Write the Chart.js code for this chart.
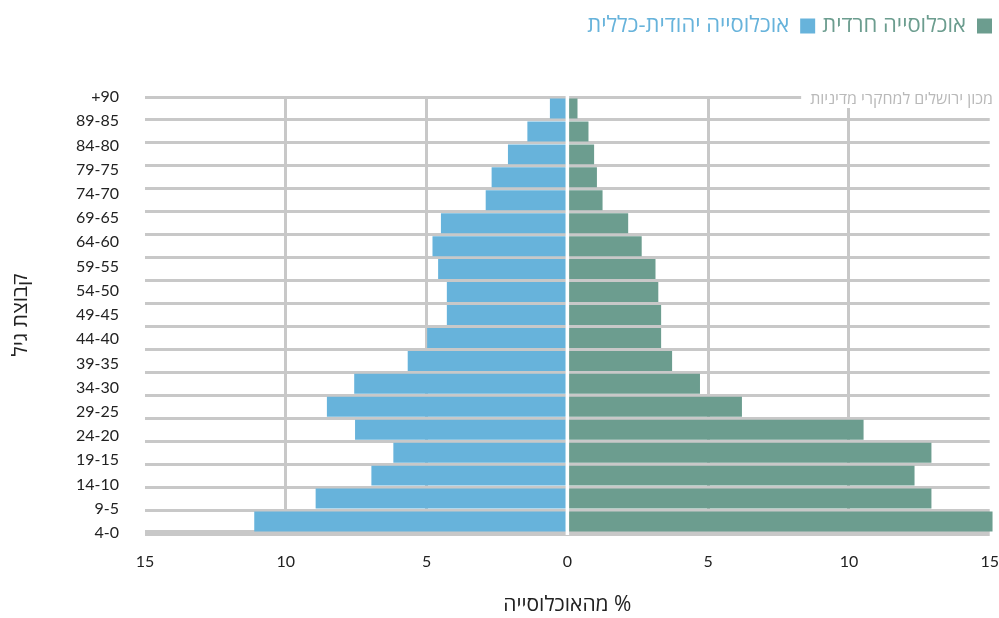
<!DOCTYPE html>
<html lang="he">
<head>
<meta charset="utf-8">
<title>פירמידת גילים</title>
<script src="https://cdn.jsdelivr.net/npm/chart.js@4.4.1/dist/chart.umd.min.js"></script>
<style>
  html, body { margin: 0; padding: 0; background: #fff; }
  #wrap { width: 999px; height: 618px; position: relative; }
</style>
</head>
<body>
<div id="wrap"><canvas id="pyramid"></canvas></div>
<script>
// קבוצות גיל, מלמעלה למטה
const ageGroups = ['+90', '89-85', '84-80', '79-75', '74-70', '69-65', '64-60', '59-55', '54-50',
  '49-45', '44-40', '39-35', '34-30', '29-25', '24-20', '19-15', '14-10', '9-5', '4-0'];

// % מהאוכלוסייה
const harediPct = [0.36, 0.75, 0.95, 1.05, 1.25, 2.16, 2.64, 3.13, 3.23,
  3.33, 3.33, 3.72, 4.71, 6.2, 10.52, 12.93, 12.33, 12.93, 15.1];
const generalPct = [0.62, 1.42, 2.11, 2.69, 2.9, 4.49, 4.79, 4.59, 4.28,
  4.28, 4.98, 5.67, 7.57, 8.54, 7.54, 6.18, 6.96, 8.94, 11.12];

const xGridValues = [-10, -5, 5, 10];

const GREEN = '#6c9d8f';
const BLUE = '#67b3db';
const GRID = '#c8c8c8';
const numFont = 'Lato, sans-serif';
const hebFont = "'Open Sans', 'DejaVu Sans', sans-serif";

// רווח בין המקרא לשטח הגרף
const legendSpacer = {
  id: 'legendSpacer',
  beforeInit(chart) {
    const fit = chart.legend.fit;
    chart.legend.fit = function () {
      fit.call(this);
      this.height = 89;
    };
  }
};

// קו לבן באפס + קרדיט
const overlay = {
  id: 'overlay',
  afterDatasetsDraw(chart) {
    const { ctx, chartArea, scales } = chart;
    const x0 = scales.x.getPixelForValue(0);
    ctx.save();
    ctx.strokeStyle = '#fff';
    ctx.lineWidth = 3.5;
    ctx.beginPath();
    ctx.moveTo(x0, chartArea.top - 1.5);
    ctx.lineTo(x0, chartArea.bottom + 2);
    ctx.stroke();

    const credit = 'מכון ירושלים למחקרי מדיניות';
    ctx.font = '16px ' + hebFont;
    const right = chart.width - 6;
    const w = ctx.measureText(credit).width;
    ctx.fillStyle = '#fff';
    ctx.fillRect(right - w - 9, chartArea.top - 10, chart.width - (right - w - 9), 21);
    ctx.fillStyle = '#b9b9b9';
    ctx.textAlign = 'right';
    ctx.textBaseline = 'middle';
    ctx.fillText(credit, right, chartArea.top + 2);
    ctx.restore();
  }
};

new Chart(document.getElementById('pyramid'), {
  type: 'bar',
  data: {
    labels: ageGroups,
    datasets: [
      {
        label: 'אוכלוסייה חרדית',
        data: harediPct,
        backgroundColor: GREEN,
        yAxisID: 'yBars',
        barPercentage: 0.87,
        categoryPercentage: 1,
        clip: 6
      },
      {
        label: 'אוכלוסייה יהודית-כללית',
        data: generalPct.map(v => -v),
        backgroundColor: BLUE,
        yAxisID: 'yBars',
        barPercentage: 0.87,
        categoryPercentage: 1,
        clip: 6
      }
    ]
  },
  options: {
    indexAxis: 'y',
    responsive: true,
    maintainAspectRatio: false,
    animation: false,
    layout: { padding: { top: 8, left: 0, right: 0, bottom: 0 } },
    scales: {
      x: {
        stacked: true,
        min: -15,
        max: 15,
        ticks: {
          stepSize: 5,
          color: '#222',
          padding: 0,
          font: { family: numFont, size: 16 },
          callback: v => Math.abs(v)
        },
        grid: {
          drawTicks: true,
          tickLength: 19,
          tickColor: 'rgba(0,0,0,0)',
          lineWidth: 3,
          color: ctx => (ctx.tick && xGridValues.includes(ctx.tick.value)) ? GRID : 'rgba(0,0,0,0)'
        },
        border: { display: false },
        title: {
          display: true,
          text: '\u200F% מהאוכלוסייה',
          color: '#222',
          font: { family: hebFont, size: 21 },
          padding: { top: 0, bottom: 0 }
        },
        afterFit(scale) { scale.height = 85; }
      },
      y: {
        axis: 'y',
        type: 'category',
        position: 'left',
        offset: false,
        grid: { display: false, drawTicks: false },
        border: { display: false },
        ticks: {
          color: '#222',
          padding: 26,
          font: { family: numFont, size: 16 }
        },
        title: {
          display: true,
          text: 'קבוצת גיל',
          color: '#222',
          font: { family: hebFont, size: 21 },
          padding: { top: 8, bottom: 0 }
        },
        afterFit(scale) { scale.width = 145; }
      },
      yBars: {
        axis: 'y',
        type: 'category',
        position: 'left',
        stacked: true,
        offset: true,
        grid: {
          offset: true,
          drawTicks: false,
          color: GRID,
          lineWidth: ctx => ctx.type === 'tick' ? 3 : 6
        },
        border: { display: false },
        ticks: { display: false },
        afterFit(scale) { scale.width = 0; }
      }
    },
    plugins: {
      tooltip: { enabled: false },
      legend: {
        position: 'top',
        align: 'start',
        rtl: true,
        labels: {
          boxWidth: 15,
          boxHeight: 15,
          padding: 7,
          font: { family: hebFont, size: 22 },
          generateLabels(chart) {
            return chart.data.datasets.map((ds, i) => ({
              text: ds.label,
              fillStyle: ds.backgroundColor,
              strokeStyle: ds.backgroundColor,
              lineWidth: 0,
              fontColor: ds.backgroundColor,
              datasetIndex: i,
              hidden: false
            }));
          }
        }
      }
    }
  },
  plugins: [legendSpacer, overlay]
});
</script>
</body>
</html>
